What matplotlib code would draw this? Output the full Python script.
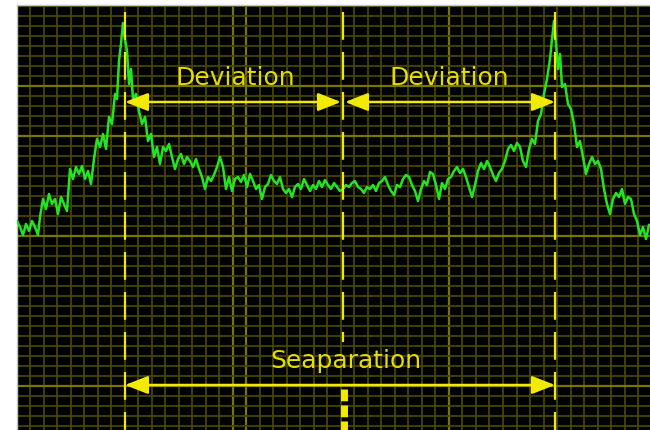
import numpy as np
import matplotlib
matplotlib.use("Agg")
import matplotlib.pyplot as plt

# spectrum trace: offset from carrier (kHz) and level (dB)
freq_khz = [
    -326, -323, -320, -317, -314, -311, -308, -305, -303, -300, -297, -294,
    -291, -288, -285, -282, -279, -276, -273, -270, -267, -264, -261, -258,
    -255, -252, -249, -246, -243, -240, -237, -234, -231, -228, -226, -224,
    -222, -220, -218, -216, -214, -212, -210, -207, -204, -201, -198, -195,
    -192, -189, -186, -183, -180, -177, -174, -171, -168, -165, -162, -159,
    -156, -153, -150, -147, -144, -141, -138, -135, -132, -129, -126, -123,
    -120, -117, -114, -111, -108, -105, -102, -99, -96, -93, -90, -87,
    -84, -81, -78, -75, -72, -69, -66, -63, -60, -57, -54, -51,
    -48, -45, -42, -39, -36, -33, -30, -27, -24, -21, -18, -15,
    -12, -9, -6, -3, 0, 3, 6, 9, 12, 15, 18, 21,
    24, 27, 30, 33, 36, 39, 42, 45, 48, 51, 54, 57,
    60, 63, 66, 69, 72, 75, 78, 81, 84, 87, 90, 93,
    96, 99, 102, 105, 108, 111, 114, 117, 120, 123, 126, 129,
    132, 135, 138, 141, 144, 147, 150, 153, 156, 159, 162, 165,
    168, 171, 174, 177, 180, 183, 186, 189, 192,
    195, 198, 201, 204, 207, 209, 211, 213, 215, 217, 219, 222,
    225, 228, 231, 234, 237, 240, 243, 246, 249, 252, 255, 258,
    261, 264, 267, 270, 273, 276, 279, 282, 285, 288, 291, 294,
    297, 300, 303, 306,
]
level_db = [
    21.5, 20.9, 20.1, 21.2, 20.5, 21.5, 20.9, 20.1, 21.9, 23.7, 22.7, 24.2,
    23.2, 23.7, 22.2, 23.9, 23.2, 22.5, 26.7, 25.7, 26.9, 26.2, 27.0, 25.7,
    26.5, 25.2, 27.7, 29.7, 28.9, 30.2, 28.7, 31.9, 31.2, 34.2, 33.7, 37.5,
    39.2, 41.3, 39.7, 38.5, 35.2, 36.7, 33.7, 34.2, 32.5, 31.2, 31.9, 29.5,
    30.2, 27.9, 28.9, 27.2, 28.9, 28.5, 29.2, 27.9, 26.7, 27.7, 28.2, 27.2,
    27.9, 27.5, 26.9, 27.7, 26.7, 25.9, 24.7, 25.9, 25.5, 26.1, 26.9, 27.9,
    26.9, 24.7, 25.9, 24.5, 25.7, 25.9, 25.4, 26.1, 24.9, 26.2, 25.5, 24.7,
    25.1, 23.7, 24.9, 25.2, 26.1, 25.5, 25.2, 25.9, 24.7, 24.3, 24.7, 23.9,
    24.9, 25.2, 24.7, 25.7, 25.1, 24.5, 25.1, 24.7, 25.5, 24.9, 25.6, 25.1,
    24.7, 25.3, 24.9, 24.5, 24.7, 25.1, 24.9, 25.3, 25.5, 24.9, 24.7, 24.3,
    24.9, 24.7, 25.1, 24.5, 25.3, 25.5, 25.9, 25.1, 24.5, 24.1, 25.1, 24.9,
    25.7, 26.1, 25.9, 25.1, 24.5, 23.5, 24.7, 25.5, 25.1, 26.4, 26.2, 25.1,
    23.7, 25.3, 24.7, 25.7, 25.9, 26.5, 26.9, 26.3, 26.7, 25.9, 24.9, 23.9,
    25.1, 26.5, 27.3, 26.7, 27.5, 26.9, 26.1, 25.5, 26.3, 26.7, 27.5, 28.7,
    29.1, 28.5, 29.3, 28.9, 27.5, 26.9, 28.7, 29.7, 29.2,
    31.5, 32.2, 34.2, 35.7, 37.7, 39.7, 41.5, 39.2, 36.7, 38.2, 34.9, 35.2,
    33.2, 32.7, 31.2, 28.9, 29.5, 27.9, 26.2, 27.2, 27.9, 27.2, 27.5, 26.7,
    24.7, 23.2, 22.2, 23.7, 24.3, 23.9, 24.7, 23.2, 23.9, 23.7, 22.2, 21.5,
    20.1, 20.9, 19.7, 21.1,
]

# markers
carrier_khz = 0
lower_peak_khz = -218
upper_peak_khz = 212
deviation_level = 33.4
separation_level = 5.1
dev_label = "Deviation"
sep_label = "Seaparation"

yellow = "#f2ea00"
text_yellow = "#e6dc00"
x0, x1 = -326, 307
y0, y1 = 0.6, 43.1

fig = plt.figure(figsize=(6.5, 4.31), dpi=100, facecolor="white")
ax = fig.add_axes([17 / 650, 0, 633 / 650, 425 / 431])
ax.set_facecolor("black")
ax.set_xlim(x0, x1)
ax.set_ylim(y0, y1)
ax.set_xticks([])
ax.set_yticks([])
for side in ["right", "bottom"]:
    ax.spines[side].set_visible(False)
for side in ["left", "top"]:
    ax.spines[side].set_color("#c4c4c4")
    ax.spines[side].set_linewidth(1.0)

# graticule
vx = x0 + 13.5 * np.arange(1, 47)
ax.vlines(vx, y0, y1, color="#454500", lw=1.3, zorder=1)
ax.vlines(vx[[15, 16, 31]], y0, y1, color="#777700", lw=1.6, zorder=1)
hy = np.arange(1, 44)
ax.hlines(hy, x0, x1, color="#454500", lw=1.3, zorder=1)
ax.hlines([5, 20, 30, 35], x0, x1, color="#777700", lw=1.6, zorder=1)

# trace
ax.plot(freq_khz, level_db, color="#22e622", lw=1.8, zorder=3)

# dashed markers
for xm in [lower_peak_khz, upper_peak_khz]:
    ax.plot([xm, xm], [42.4, y0], color=yellow, lw=1.6, dashes=(12.5, 5.5), zorder=4)
ax.plot([carrier_khz, carrier_khz], [42.4, 9.4], color=yellow, lw=1.6,
        dashes=(12.5, 5.5), zorder=4)
ax.plot([carrier_khz + 1, carrier_khz + 1], [4.7, y0], color=yellow, lw=5,
        dashes=(1.7, 0.6), zorder=4)

# arrows
arrow = dict(arrowstyle="<|-|>,head_length=1.4,head_width=0.55", color=yellow,
             lw=1.8, shrinkA=0, shrinkB=0, mutation_scale=10)
ax.annotate("", xy=(lower_peak_khz, deviation_level),
            xytext=(carrier_khz - 2, deviation_level), arrowprops=arrow, zorder=5)
ax.annotate("", xy=(upper_peak_khz, deviation_level),
            xytext=(carrier_khz + 2, deviation_level), arrowprops=arrow, zorder=5)
ax.annotate("", xy=(lower_peak_khz, separation_level),
            xytext=(upper_peak_khz, separation_level), arrowprops=arrow, zorder=5)

ax.text(-108, 35.2, dev_label, ha="center", va="baseline", fontsize=18,
        color=text_yellow, family="DejaVu Sans", zorder=6)
ax.text(106, 35.2, dev_label, ha="center", va="baseline", fontsize=18,
        color=text_yellow, family="DejaVu Sans", zorder=6)
ax.text(3, 6.9, sep_label, ha="center", va="baseline", fontsize=18,
        color=text_yellow, family="DejaVu Sans", zorder=6)

fig.savefig("out.png", dpi=100, facecolor="white")
